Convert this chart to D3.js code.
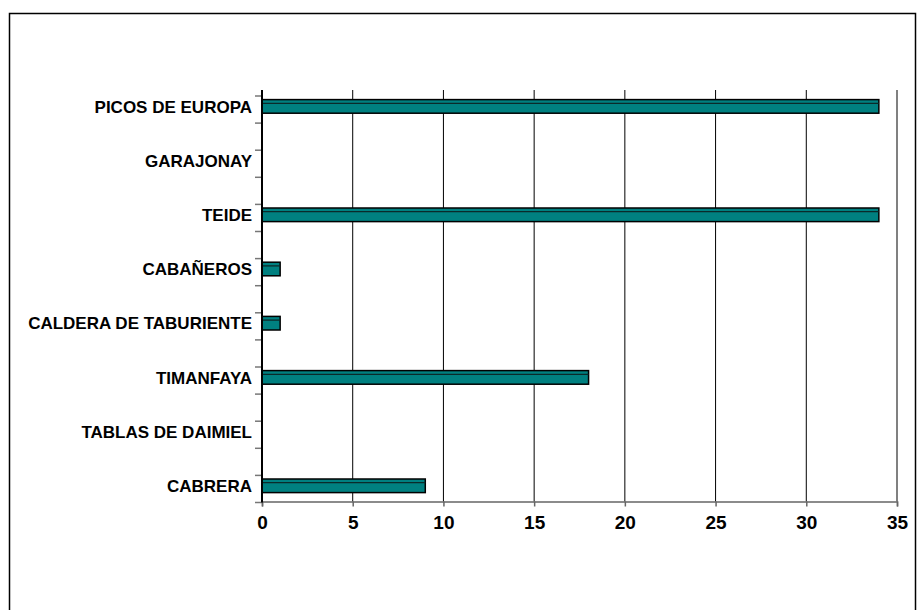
<!DOCTYPE html>
<html><head><meta charset="utf-8">
<script src="https://cdn.jsdelivr.net/npm/d3@7"></script>
<style>html,body{margin:0;padding:0;background:#fff;}svg{display:block;}</style>
</head><body>
<svg id="c" width="917" height="610"></svg>
<script>
const categories = ["CABRERA","TABLAS DE DAIMIEL","TIMANFAYA","CALDERA DE TABURIENTE","CABAÑEROS","TEIDE","GARAJONAY","PICOS DE EUROPA"];
const values = [9,0,18,1,1,34,0,34];
const xTicks = [0,5,10,15,20,25,30,35];

const svg = d3.select("#c");
const font = "'Liberation Sans', Arial, sans-serif";
svg.append("rect").attr("x",9.5).attr("y",13.5).attr("width",906).attr("height",620)
  .attr("fill","none").attr("stroke","#000").attr("stroke-width",1.5);

const x = d3.scaleLinear().domain([0,35]).range([262,897]);
// 15 slots: named categories on even slots, blank slots in between
const nSlots = categories.length*2-1;
const slots = d3.range(nSlots);
const y = d3.scaleBand().domain(slots).range([502.5,96]).paddingInner(0).paddingOuter(0);
const bw = y.bandwidth();
const plotTop = 90, plotBottom = 501.5;

// gridlines
svg.append("g").selectAll("line").data(xTicks.filter(d=>d>0)).join("line")
  .attr("x1",d=>x(d)).attr("x2",d=>x(d)).attr("y1",plotTop).attr("y2",plotBottom)
  .attr("stroke",d=>d===35?"#808080":"#000").attr("stroke-width",d=>d===35?2:1);

// bottom axis
const xa = svg.append("g").attr("transform",`translate(0,${plotBottom})`)
  .call(d3.axisBottom(x).tickValues(xTicks).tickSize(5).tickPadding(9));
xa.select(".domain").attr("stroke","#666").attr("stroke-width",1.5);
xa.selectAll(".tick line").attr("stroke","#666").attr("stroke-width",1.5);
xa.selectAll("text").attr("font-family",font).attr("font-weight","bold").attr("font-size","19px").attr("fill","#000");

// left axis ticks at slot boundaries
const bounds = d3.range(nSlots+1).map(i=> i<nSlots ? y(i)+bw : y(nSlots-1));
svg.append("g").selectAll("line").data(bounds).join("line")
  .attr("x1",255).attr("x2",262).attr("y1",d=>d).attr("y2",d=>d)
  .attr("stroke","#777").attr("stroke-width",1.5);

// bars
const bars = svg.append("g").selectAll("g").data(categories.map((c,i)=>({c,v:values[i],s:i*2}))).join("g");
bars.filter(d=>d.v>0).append("rect")
  .attr("x",x(0)).attr("y",d=>y(d.s)+3.6).attr("width",d=>x(d.v)-x(0)).attr("height",13.6)
  .attr("fill","#008080").attr("stroke","#000").attr("stroke-width",1.5);
bars.filter(d=>d.v>0).append("line")
  .attr("x1",x(0)).attr("x2",d=>x(d.v)).attr("y1",d=>y(d.s)+7.3).attr("y2",d=>y(d.s)+7.3)
  .attr("stroke","#0a2a2a").attr("stroke-width",1.3);

// category labels
bars.append("text").attr("x",252).attr("y",d=>y(d.s)+10.6).attr("dy","0.35em")
  .attr("text-anchor","end").attr("font-family",font).attr("font-weight","bold")
  .attr("font-size","17px").text(d=>d.c);

// left axis line
svg.append("line").attr("x1",262).attr("x2",262).attr("y1",plotTop).attr("y2",plotBottom+1)
  .attr("stroke","#000").attr("stroke-width",2);
</script>
</body></html>
